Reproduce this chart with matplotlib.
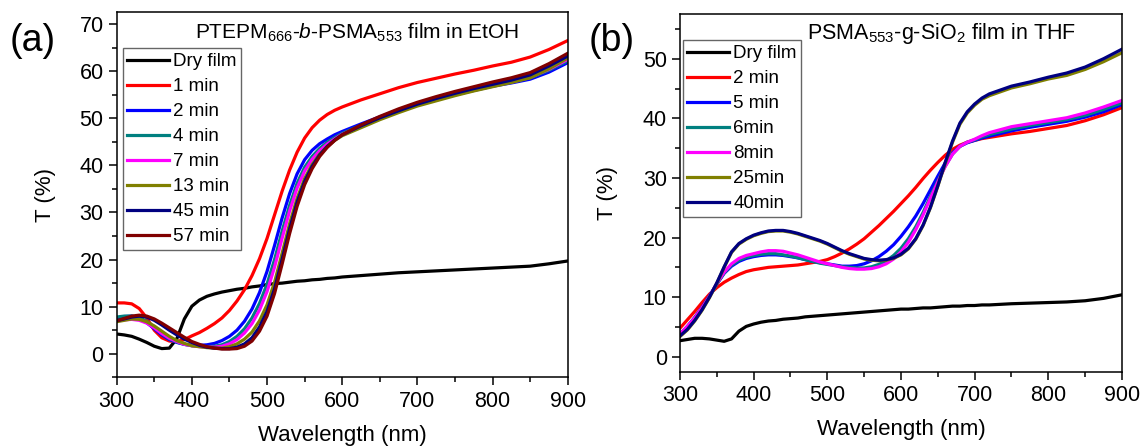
import matplotlib
matplotlib.use("Agg")
import matplotlib.pyplot as plt
from matplotlib.ticker import MultipleLocator

plt.rcParams['font.family'] = ['Liberation Sans', 'DejaVu Sans']
plt.rcParams['mathtext.fontset'] = 'custom'
plt.rcParams['mathtext.rm'] = 'Liberation Sans'
plt.rcParams['mathtext.it'] = 'Liberation Sans:italic'

colors_a = ['#000000', '#ff0000', '#0000ff', '#008080', '#ff00ff', '#808000', '#000080', '#800000']
colors_b = ['#000000', '#ff0000', '#0000ff', '#008080', '#ff00ff', '#808000', '#000080']

# ---- panel (a): PTEPM-b-PSMA film in EtOH ----
wl_a = [300, 310, 320, 330, 340, 350, 360, 370, 380, 390, 400, 410, 420, 430, 440, 450, 460,
        470, 480, 490, 500, 510, 520, 530, 540, 550, 560, 570, 580, 590, 600,
        625, 650, 675, 700, 725, 750, 775, 800, 825, 850, 875, 900]
labels_a = ['Dry film', '1 min', '2 min', '4 min', '7 min', '13 min', '45 min', '57 min']
dry_a = [4.2, 4.0, 3.7, 3.1, 2.4, 1.6, 1.1, 1.2, 3.2, 7.4, 10.1, 11.4, 12.2, 12.7, 13.1, 13.4, 13.7,
         13.9, 14.2, 14.4, 14.7, 14.9, 15.0, 15.2, 15.4, 15.5, 15.7, 15.8, 16.0, 16.1, 16.3,
         16.6, 16.9, 17.2, 17.4, 17.6, 17.8, 18.0, 18.2, 18.4, 18.6, 19.1, 19.7]
min1_a = [10.8, 10.8, 10.6, 9.6, 7.6, 5.0, 3.4, 2.7, 2.6, 3.0, 3.8, 4.5, 5.4, 6.4, 7.6, 9.2, 11.2,
          13.6, 16.6, 20.2, 24.5, 29.5, 34.5, 39.0, 42.8, 45.8, 48.0, 49.6, 50.8, 51.7, 52.4,
          53.9, 55.2, 56.5, 57.6, 58.5, 59.4, 60.2, 61.1, 61.9, 63.0, 64.6, 66.5]
min2_a = [7.6, 7.9, 8.0, 7.6, 6.6, 5.3, 4.0, 3.0, 2.4, 2.0, 1.8, 1.8, 1.9, 2.2, 2.8, 3.7, 5.0,
          6.9, 9.5, 13.0, 17.5, 23.0, 28.8, 34.0, 38.2, 41.2, 43.2, 44.6, 45.6, 46.5, 47.2,
          48.8, 50.3, 51.7, 53.0, 54.0, 55.0, 55.9, 56.8, 57.5, 58.3, 59.8, 61.8]
min4_a = [7.8, 8.0, 8.0, 7.7, 6.9, 5.6, 4.3, 3.2, 2.5, 2.0, 1.7, 1.6, 1.5, 1.6, 1.9, 2.6, 3.7,
          5.3, 7.6, 10.7, 14.8, 20.0, 26.0, 31.5, 36.2, 39.6, 41.9, 43.6, 44.9, 45.9, 46.8,
          48.5, 50.1, 51.6, 53.0, 54.1, 55.1, 56.0, 56.9, 57.7, 58.6, 60.2, 62.2]
min7_a = [7.0, 7.2, 7.3, 7.1, 6.5, 5.5, 4.3, 3.3, 2.6, 2.0, 1.7, 1.5, 1.4, 1.4, 1.6, 2.1, 3.0,
          4.4, 6.4, 9.3, 13.2, 18.4, 24.5, 30.3, 35.2, 38.8, 41.3, 43.1, 44.5, 45.6, 46.6,
          48.3, 50.0, 51.5, 52.9, 54.0, 55.0, 56.0, 56.9, 57.7, 58.7, 60.4, 62.5]
min13_a = [6.8, 7.1, 7.4, 7.3, 6.8, 5.9, 4.8, 3.7, 2.8, 2.2, 1.7, 1.5, 1.3, 1.2, 1.2, 1.5, 2.1,
           3.1, 4.6, 7.0, 10.4, 15.2, 21.3, 27.6, 33.0, 37.2, 40.2, 42.4, 44.0, 45.3, 46.3,
           48.0, 49.7, 51.2, 52.6, 53.7, 54.8, 55.8, 56.7, 57.6, 58.6, 60.5, 62.8]
min45_a = [7.0, 7.4, 7.8, 8.0, 7.8, 7.1, 6.1, 5.0, 4.0, 3.1, 2.4, 1.8, 1.4, 1.2, 1.1, 1.1, 1.4,
           2.1, 3.4, 5.7, 9.0, 13.8, 20.0, 26.5, 32.2, 36.6, 39.8, 42.2, 44.0, 45.4, 46.5,
           48.4, 50.1, 51.6, 53.0, 54.2, 55.3, 56.3, 57.2, 58.1, 59.2, 61.1, 63.2]
min57_a = [7.0, 7.5, 8.0, 8.2, 8.0, 7.4, 6.5, 5.5, 4.5, 3.5, 2.6, 2.0, 1.5, 1.2, 1.0, 1.0, 1.1,
           1.6, 2.7, 4.8, 8.0, 12.8, 19.0, 25.5, 31.3, 35.9, 39.3, 41.9, 43.8, 45.3, 46.5,
           48.6, 50.4, 52.0, 53.4, 54.6, 55.7, 56.7, 57.7, 58.6, 59.7, 61.6, 63.8]
series_a = [dry_a, min1_a, min2_a, min4_a, min7_a, min13_a, min45_a, min57_a]

# ---- panel (b): PSMA-g-SiO2 film in THF ----
wl_b = [300, 310, 320, 330, 340, 350, 360, 370, 380, 390, 400, 410, 420, 430, 440, 450, 460,
        470, 480, 490, 500, 510, 520, 530, 540, 550, 560, 570, 580, 590, 600, 610, 620, 630,
        640, 650, 660, 670, 680, 690, 700, 710, 720, 750, 775, 800, 825, 850, 875, 900]
labels_b = ['Dry film', '2 min', '5 min', '6min', '8min', '25min', '40min']
dry_b = [2.7, 2.9, 3.1, 3.1, 3.0, 2.8, 2.6, 3.0, 4.3, 5.1, 5.5, 5.8, 6.0, 6.1, 6.3, 6.4, 6.5,
         6.7, 6.8, 6.9, 7.0, 7.1, 7.2, 7.3, 7.4, 7.5, 7.6, 7.7, 7.8, 7.9, 8.0, 8.0, 8.1, 8.2,
         8.2, 8.3, 8.4, 8.5, 8.5, 8.6, 8.6, 8.7, 8.7, 8.9, 9.0, 9.1, 9.2, 9.4, 9.8, 10.4]
min2_b = [4.8, 6.2, 7.6, 9.1, 10.5, 11.6, 12.5, 13.2, 13.8, 14.3, 14.6, 14.8, 15.0, 15.1, 15.2,
          15.3, 15.4, 15.6, 15.8, 16.0, 16.3, 16.8, 17.4, 18.1, 18.9, 19.8, 20.9, 22.0, 23.2,
          24.4, 25.7, 27.0, 28.4, 29.9, 31.3, 32.6, 33.8, 34.8, 35.5, 36.0, 36.3, 36.6, 36.8,
          37.4, 37.8, 38.3, 38.8, 39.6, 40.6, 41.8]
min5_b = [3.8, 5.1, 6.6, 8.3, 10.2, 12.2, 14.0, 15.2, 16.0, 16.5, 16.8, 17.0, 17.1, 17.1, 17.0,
          16.8, 16.6, 16.3, 16.0, 15.8, 15.6, 15.4, 15.2, 15.2, 15.3, 15.6, 16.1, 16.8, 17.7,
          18.8, 20.2, 21.8, 23.6, 25.7, 28.0, 30.3, 32.5, 34.2, 35.3, 35.9, 36.3, 36.7, 37.0,
          37.9, 38.5, 39.0, 39.5, 40.2, 41.1, 42.3]
min6_b = [3.7, 5.0, 6.5, 8.2, 10.1, 12.2, 14.1, 15.4, 16.2, 16.7, 17.0, 17.2, 17.3, 17.3, 17.1,
          16.9, 16.6, 16.3, 16.0, 15.7, 15.5, 15.3, 15.1, 15.0, 14.9, 14.9, 15.1, 15.5, 16.1,
          17.0, 18.2, 19.8, 21.8, 24.2, 26.9, 29.5, 32.0, 34.0, 35.3, 36.0, 36.4, 36.9, 37.3,
          38.2, 38.8, 39.3, 39.8, 40.5, 41.5, 42.6]
min8_b = [3.8, 5.1, 6.5, 8.2, 10.1, 12.3, 14.2, 15.6, 16.5, 17.0, 17.3, 17.6, 17.8, 17.8, 17.7,
          17.4, 17.1, 16.7, 16.3, 15.9, 15.6, 15.3, 15.0, 14.8, 14.7, 14.7, 14.8, 15.1, 15.6,
          16.4, 17.6, 19.2, 21.3, 23.8, 26.6, 29.3, 31.9, 34.0, 35.3, 36.0, 36.5, 37.1, 37.6,
          38.6, 39.1, 39.6, 40.1, 40.9, 41.9, 43.0]
min25_b = [3.4, 4.5, 6.0, 7.8, 9.9, 12.3, 15.0, 17.5, 18.9, 19.7, 20.3, 20.7, 21.0, 21.1, 21.1,
           20.9, 20.6, 20.2, 19.8, 19.4, 18.9, 18.3, 17.7, 17.2, 16.8, 16.4, 16.2, 16.1, 16.2,
           16.5, 17.1, 18.1, 19.7, 22.0, 25.0, 28.6, 32.4, 36.0, 39.0, 40.9, 42.2, 43.2, 43.8,
           45.1, 45.8, 46.6, 47.2, 48.2, 49.5, 51.0]
min40_b = [3.5, 4.6, 6.1, 7.9, 10.0, 12.4, 15.1, 17.6, 19.0, 19.8, 20.4, 20.8, 21.1, 21.2, 21.2,
           21.0, 20.7, 20.3, 19.9, 19.5, 19.0, 18.4, 17.8, 17.3, 16.9, 16.5, 16.3, 16.2, 16.3,
           16.6, 17.2, 18.2, 19.8, 22.1, 25.1, 28.7, 32.6, 36.2, 39.2, 41.1, 42.4, 43.4, 44.1,
           45.4, 46.1, 46.9, 47.6, 48.6, 50.0, 51.6]
series_b = [dry_b, min2_b, min5_b, min6_b, min8_b, min25_b, min40_b]

fig = plt.figure(figsize=(11.43, 4.46), dpi=100)
ax1 = fig.add_axes([0.1021, 0.154, 0.3946, 0.8184])
ax2 = fig.add_axes([0.5949, 0.1666, 0.3867, 0.802])


def style_axis(ax, ylim, ylab_x, xlab_y):
    ax.set_xlim(300, 900)
    ax.set_ylim(*ylim)
    ax.xaxis.set_major_locator(MultipleLocator(100))
    ax.xaxis.set_minor_locator(MultipleLocator(50))
    ax.yaxis.set_major_locator(MultipleLocator(10))
    ax.yaxis.set_minor_locator(MultipleLocator(5))
    ax.tick_params(which='both', direction='out', top=False, right=False, width=1.1,
                   labelsize=15.5)
    ax.tick_params(which='major', length=6)
    ax.tick_params(which='minor', length=3.5)
    for s in ax.spines.values():
        s.set_linewidth(1.1)
    ax.set_xlabel('Wavelength (nm)', fontsize=16)
    ax.set_ylabel('T (%)', fontsize=16)
    ax.yaxis.set_label_coords(ylab_x, 0.5)
    ax.xaxis.set_label_coords(0.5, xlab_y)
    ax.xaxis.label.set_va('center')
    ax.yaxis.label.set_va('center')


def add_legend(ax, x, y):
    ax.legend(loc='upper left', bbox_to_anchor=(x, y), borderaxespad=0, fontsize=13.5,
              handlelength=2.2, handletextpad=0.25, labelspacing=0.42, fancybox=False,
              edgecolor='#666666', framealpha=1, borderpad=0.25)


for y, lab, c in zip(series_a, labels_a, colors_a):
    ax1.plot(wl_a, y, color=c, lw=2.3, label=lab, solid_joinstyle='round')
style_axis(ax1, (-5, 72.5), -0.157, -0.159)
add_legend(ax1, 0.013, 0.901)
ax1.text(0.174, 0.927, 'PTEPM$_{666}$-$\\mathit{b}$-PSMA$_{553}$ film in EtOH', transform=ax1.transAxes,
         fontsize=15, va='baseline')

for y, lab, c in zip(series_b, labels_b, colors_b):
    ax2.plot(wl_b, y, color=c, lw=2.3, label=lab, solid_joinstyle='round')
style_axis(ax2, (-2.5, 57.5), -0.163, -0.162)
add_legend(ax2, 0.006, 0.9265)
ax2.text(0.287, 0.929, 'PSMA$_{553}$-g-SiO$_{2}$ film in THF', transform=ax2.transAxes,
         fontsize=15.5, va='baseline')

fig.text(0.029, 0.908, '(a)', fontsize=27, ha='center', va='center')
fig.text(0.535, 0.908, '(b)', fontsize=27, ha='center', va='center')

fig.savefig('out.png', dpi=100)
